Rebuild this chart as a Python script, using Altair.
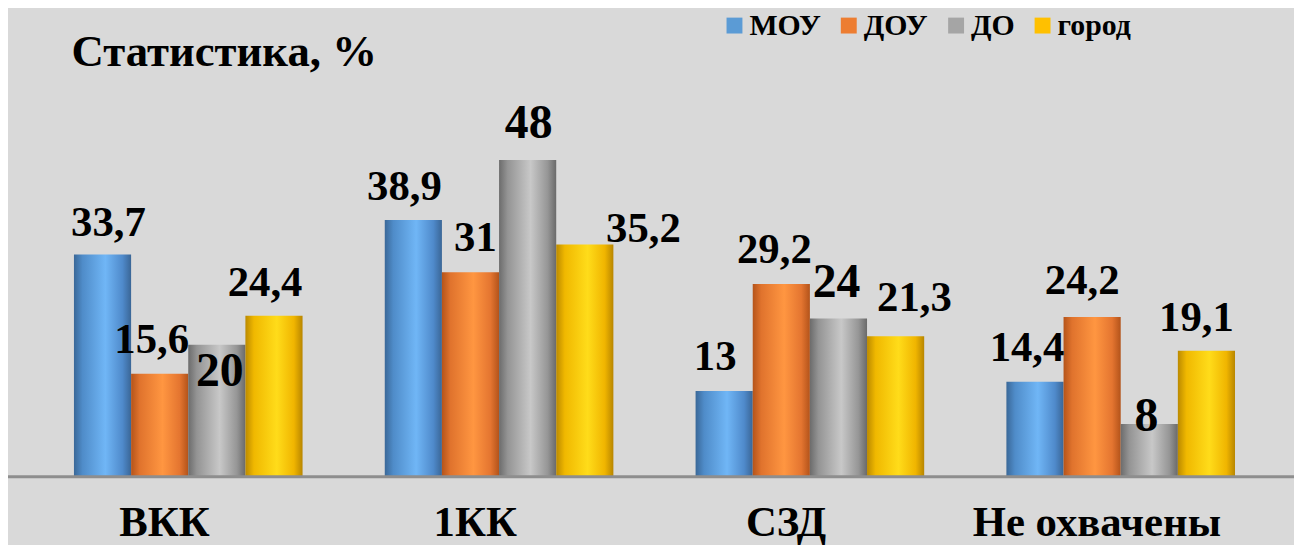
import altair as alt
import pandas as pd

categories = ["ВКК", "1КК", "СЗД", "Не охвачены"]
series = ["МОУ", "ДОУ", "ДО", "город"]
moy = [33.7, 38.9, 13, 14.4]
doy = [15.6, 31, 29.2, 24.2]
do_ = [20, 48, 24, 8]
gorod = [24.4, 35.2, 21.3, 19.1]
values = [moy, doy, do_, gorod]

legend_colors = ["#5b9bd5", "#ed7d31", "#a5a5a5", "#ffc000"]
grad_colors = [
    ["#3a6898", "#4f8cc9", "#70b6f6", "#4f8acb", "#3a6696"],
    ["#b5541a", "#e0732d", "#ff9641", "#e47530", "#b3531a"],
    ["#6c6c6c", "#949494", "#c8c8c8", "#969696", "#6a6a6a"],
    ["#bb8a00", "#f0b800", "#ffdc1a", "#f0b500", "#b88600"],
]

# label nudges (dx, dy) in pixels relative to bar top centre
nudges = {
    ("МОУ", "ВКК"): (6, -18), ("ДОУ", "ВКК"): (-8, -21), ("ДО", "ВКК"): (3, 41), ("город", "ВКК"): (-9, -20),
    ("МОУ", "1КК"): (-9, -20), ("ДОУ", "1КК"): (5, -21), ("ДО", "1КК"): (1, -22), ("город", "1КК"): (59, -2),
    ("МОУ", "СЗД"): (-9, -21), ("ДОУ", "СЗД"): (-7, -21), ("ДО", "СЗД"): (-2, -22), ("город", "СЗД"): (19, -25),
    ("МОУ", "Не охвачены"): (-8, -21), ("ДОУ", "Не охвачены"): (-10, -23), ("ДО", "Не охвачены"): (-3, 7), ("город", "Не охвачены"): (-10, -20),
}

rows = []
for s, vals in zip(series, values):
    for c, v in zip(categories, vals):
        rows.append({"cat": c, "series": s, "value": v, "label": f"{v:g}".replace(".", ",")})
df = pd.DataFrame(rows)

W, H = 1251, 332
FONT = "Liberation Serif"

X = alt.X("cat:N", sort=categories,
          scale=alt.Scale(domain=categories, paddingInner=0.2645, paddingOuter=0.13225),
          axis=None)
XO = alt.XOffset("series:N", sort=series, scale=alt.Scale(domain=series, paddingInner=0, paddingOuter=0))
Y = alt.Y("value:Q", scale=alt.Scale(domain=[0, 50]), axis=None)

base = alt.Chart(df)
layers = []
for s, gc in zip(series, grad_colors):
    grad = alt.Gradient(
        gradient="linear", x1=0, x2=1, y1=0, y2=0,
        stops=[alt.GradientStop(offset=o, color=c) for o, c in zip([0, 0.15, 0.55, 0.85, 1], gc)],
    )
    layers.append(
        base.transform_filter(alt.datum.series == s)
        .mark_bar(fill=grad, strokeWidth=0)
        .encode(x=X, xOffset=XO, y=Y)
    )

axis_line = alt.Chart(pd.DataFrame({"a": [0]})).mark_rule(color="#8e8e8e", strokeWidth=3).encode(
    x=alt.value(-25), x2=alt.value(W + 20), y=alt.value(H)
)
layers.append(axis_line)

cat_labels = alt.Chart(pd.DataFrame({"cat": categories})).mark_text(
    font=FONT, fontWeight="bold", fontSize=43, color="black", baseline="alphabetic",
    align="center", dx=-24
).encode(x=X, y=alt.value(H + 60), text="cat:N")
layers.append(cat_labels)

for s in series:
    for c in categories:
        dx, dy = nudges[(s, c)]
        layers.append(
            base.transform_filter((alt.datum.series == s) & (alt.datum.cat == c))
            .mark_text(font=FONT, fontWeight="bold", fontSize=48 if s == "ДО" else 43,
                       color="black", baseline="alphabetic", align="center", dx=dx, dy=dy)
            .encode(x=X, xOffset=XO, y=Y, text="label:N")
        )

legend_layer = alt.Chart(pd.DataFrame({"series": series})).mark_point(filled=True, opacity=0).encode(
    color=alt.Color("series:N", sort=series,
                    scale=alt.Scale(domain=series, range=legend_colors),
                    legend=alt.Legend(title=None, orient="none", legendX=691, legendY=-137,
                                      direction="horizontal", symbolType="square", symbolSize=256,
                                      symbolOpacity=1, symbolStrokeWidth=0,
                                      labelFont=FONT, labelFontWeight="bold", labelFontSize=30,
                                      labelColor="black", labelOffset=0, columnPadding=13, padding=0))
)
layers.append(legend_layer)

chart = alt.layer(*layers).properties(
    width=W, height=H,
    title=alt.TitleParams("Статистика, %", anchor="start", frame="group", font=FONT,
                          fontWeight="bold", fontSize=45, color="black", dx=39, offset=-101,
                          baseline="alphabetic"),
    background="#d9d9d9",
    autosize=alt.AutoSizeParams(type="none"),
    padding={"left": 25, "top": 138, "right": 18, "bottom": 70},
).configure_view(stroke=None)

chart.save("out.html", embed_options={"renderer": "svg", "actions": False})
